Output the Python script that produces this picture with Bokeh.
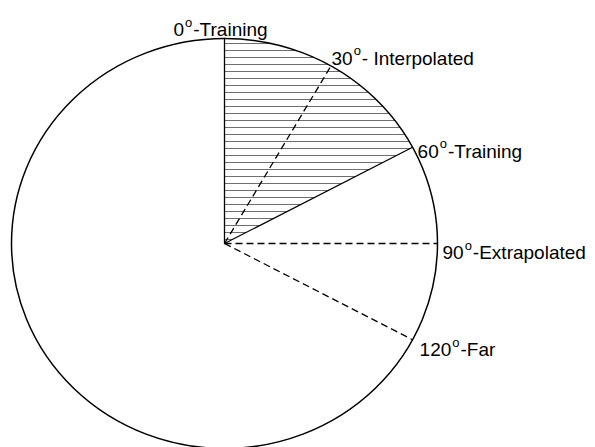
import numpy as np
from bokeh.plotting import figure
from bokeh.models import Range1d
from bokeh.embed import file_html
from bokeh.resources import INLINE
from bokeh.core.properties import value

# ---- data ----
angle_labels = [0, 30, 60, 90, 120]            # labelled angles (degrees)
drawn_angles = [0, 30, 62, 90, 118]            # angles as drawn in the picture
label_names = ["-Training", "- Interpolated", "-Training", "-Extrapolated", "-Far"]
hatched_from = 0                               # hatched sector: 0° line ...
hatched_to = 62                                # ... to the 60° line (as drawn)

# ---- styles / layout ----
line_styles = ["solid", "dashed", "solid", "dashed", "dashed"]
label_offsets = [(-51, 9), (0.5, 7.5), (5, -4), (5, -9), (7, -10)]  # px, relative to rim point
W, H = 595, 447
CX, CY = 224, 204
RX, RY = 213, 205
FONT = "Liberation Sans"
FS = 19
SUP_FS = 13
HATCH_STEP = 7
HATCH_TOP = 200

p = figure(width=W, height=H, x_range=Range1d(0, W), y_range=Range1d(0, H),
           output_backend="svg", toolbar_location=None, min_border=0)
p.axis.visible = False
p.grid.visible = False
p.outline_line_color = None
p.background_fill_color = "white"
p.border_fill_color = "white"


def rim(a):
    t = np.radians(a)
    return CX + RX * np.sin(t), CY + RY * np.cos(t)


# hatch lines in the 0°-60° sector
hs = np.arange(HATCH_TOP, 0, -HATCH_STEP).astype(float)
t_to = np.radians(hatched_to)
x_arc = CX + RX * np.sqrt(1 - (hs / RY) ** 2)
x_line = CX + hs * (RX * np.sin(t_to)) / (RY * np.cos(t_to))
x_right = np.minimum(x_arc, x_line)
p.segment(x0=[CX] * len(hs), y0=list(CY + hs), x1=list(x_right), y1=list(CY + hs),
          line_color="#6e6e6e", line_width=1.2)

# radial lines
for a, st in zip(drawn_angles, line_styles):
    ex, ey = rim(a)
    kw = dict(line_color="black", line_width=1.3)
    if st == "dashed":
        kw["line_dash"] = "7 4"
    p.segment(x0=[CX], y0=[CY], x1=[ex], y1=[ey], **kw)

# outer ellipse
p.ellipse(x=[CX], y=[CY], width=[2 * RX], height=[2 * RY],
          fill_color=None, line_color="black", line_width=1.5)

# labels: number, superscript "o", text
for n, a, name, (dx, dy) in zip(angle_labels, drawn_angles, label_names, label_offsets):
    ex, ey = rim(a)
    x0, y0 = ex + dx, ey + dy
    num = str(n)
    common = dict(text_font=value(FONT), text_color="black",
                  text_baseline="alphabetic", text_align="left")
    p.text(x=[x0], y=[y0], text=[num], text_font_size=f"{FS}px", **common)
    xo = x0 + len(num) * 0.556 * FS + 1
    p.text(x=[xo], y=[y0 + 7.5], text=["o"], text_font_size=f"{SUP_FS}px", **common)
    xr = xo + 0.556 * SUP_FS + 1
    p.text(x=[xr], y=[y0], text=[name], text_font_size=f"{FS}px", **common)

open("out.html", "w").write(file_html(p, INLINE))
